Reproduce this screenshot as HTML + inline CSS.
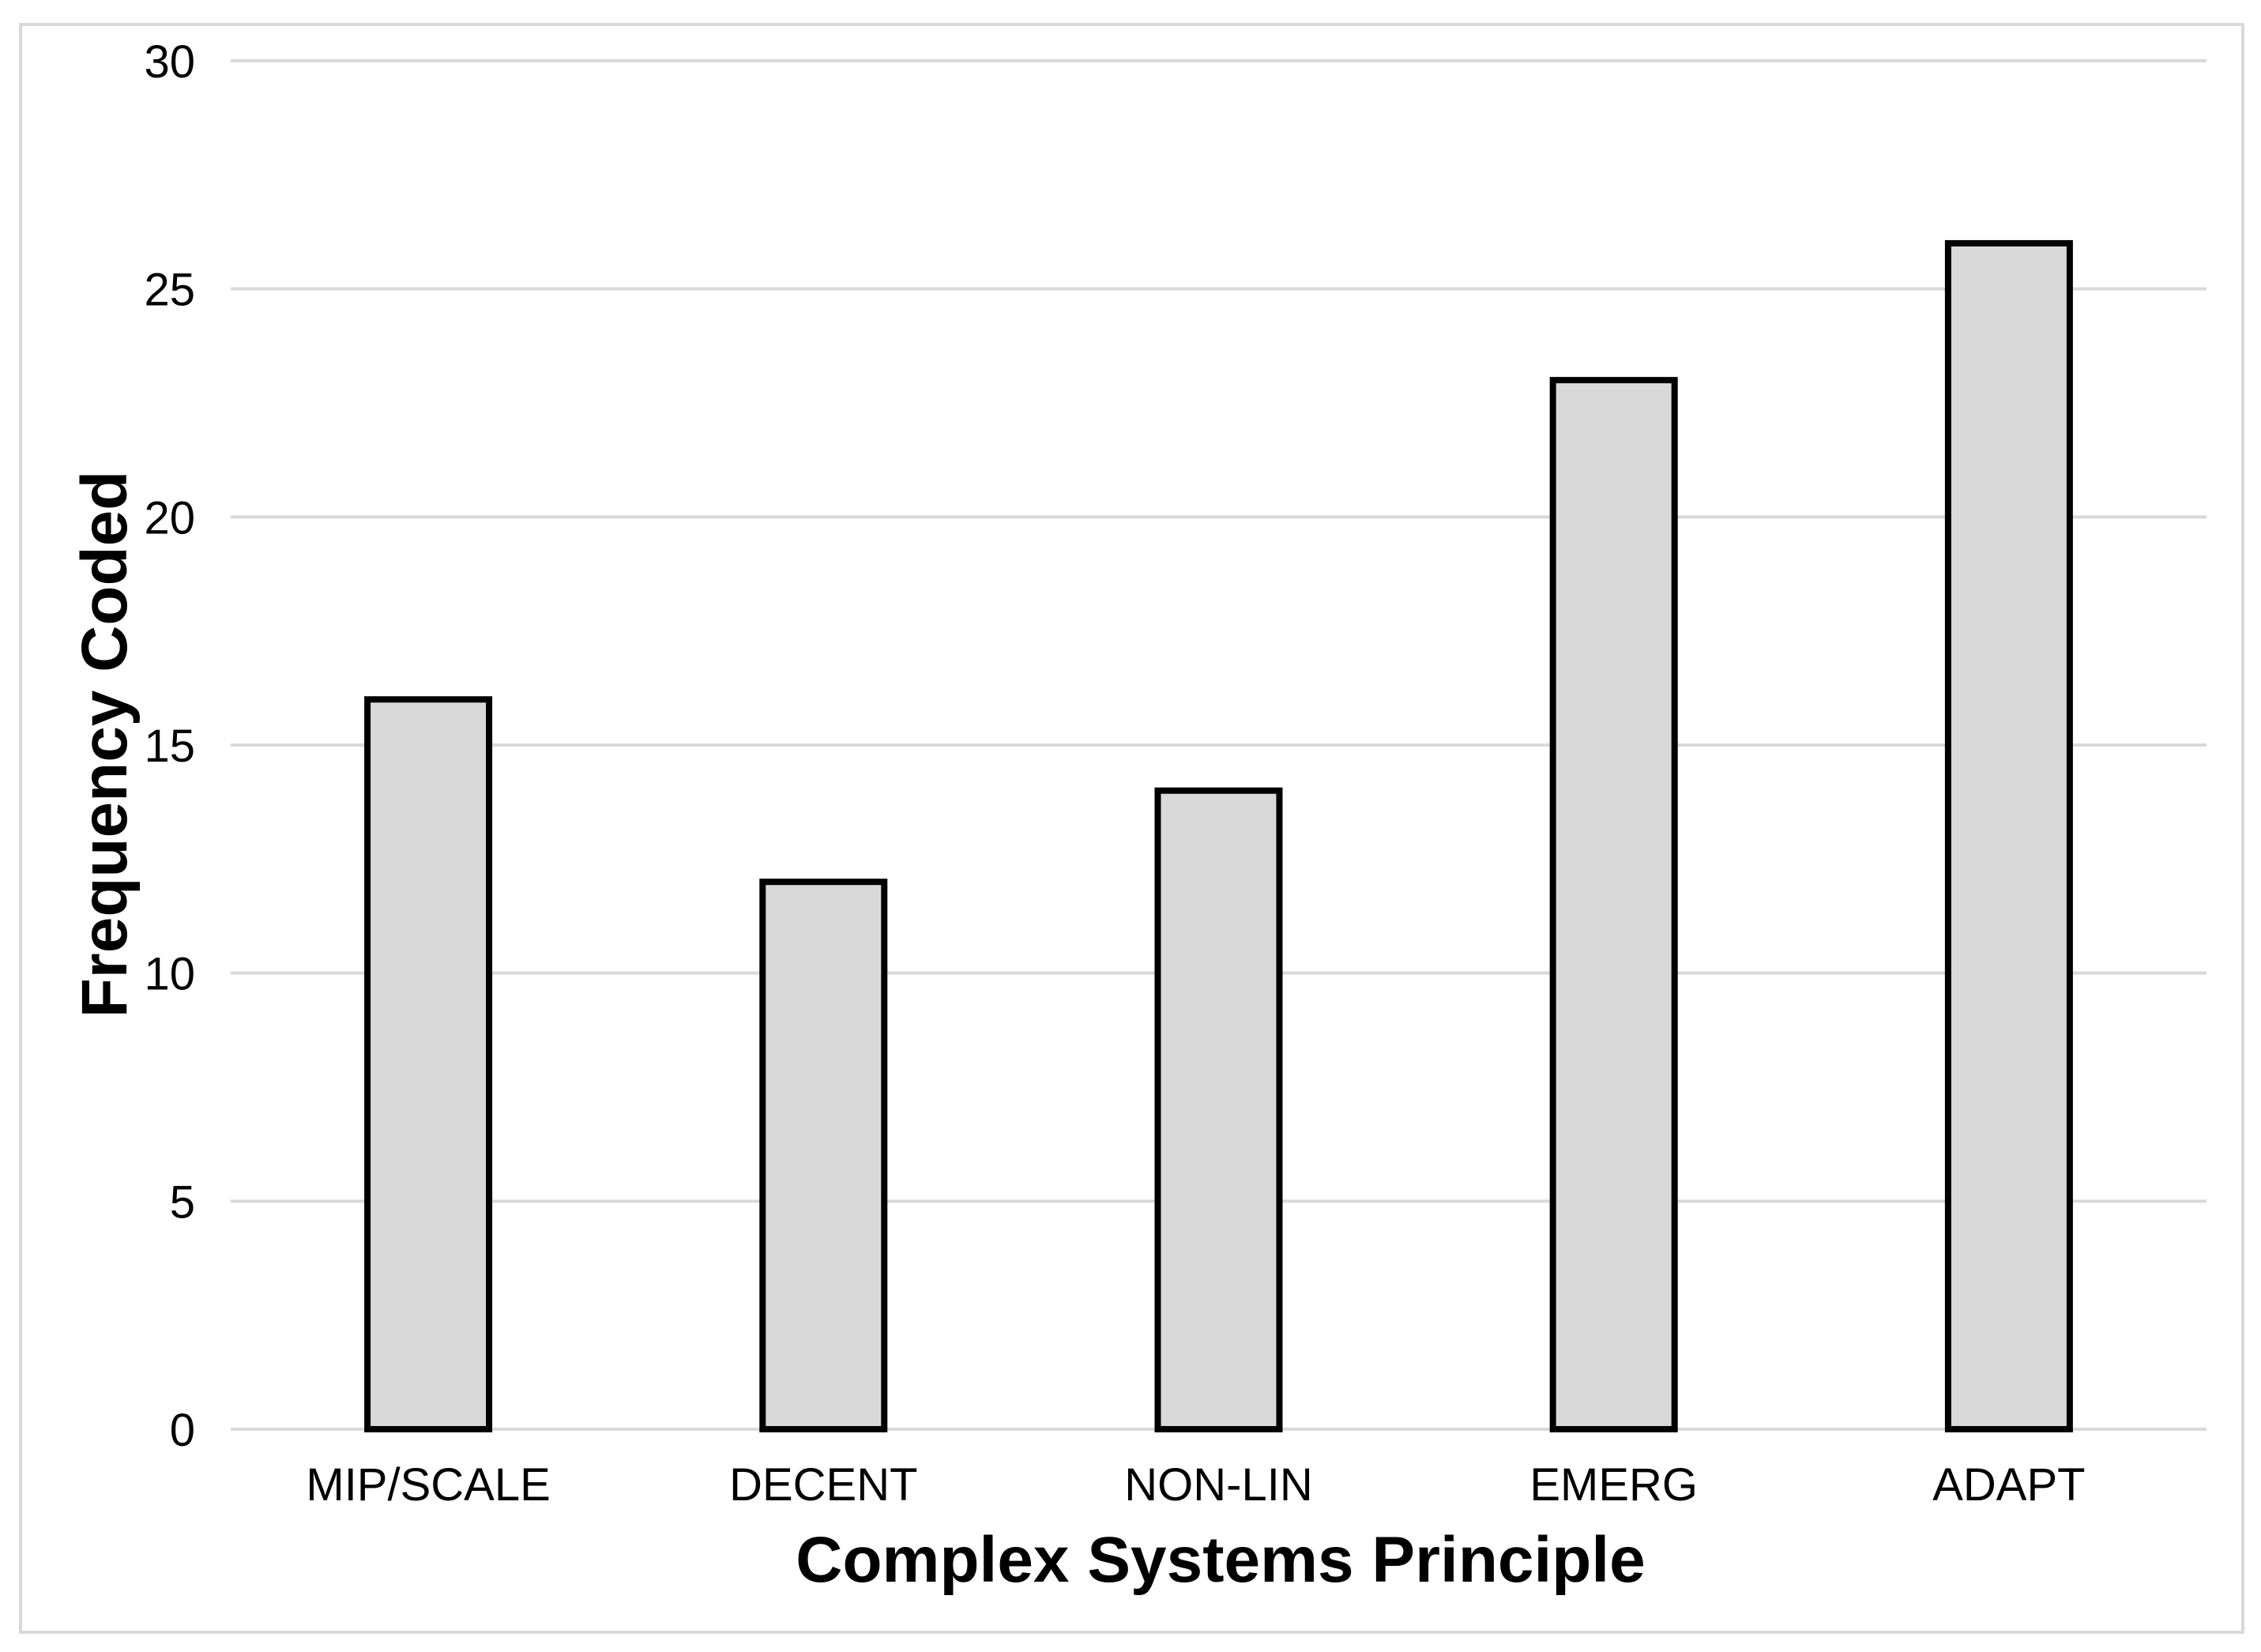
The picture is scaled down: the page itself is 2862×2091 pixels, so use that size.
<!DOCTYPE html>
<html><head><meta charset="utf-8"><style>
html,body{margin:0;padding:0;background:#fff;}
svg{display:block;font-family:"Liberation Sans",Arial,sans-serif;}
</style></head><body>
<svg id="chart" width="2862" height="2091" viewBox="0 0 2862 2091" xmlns="http://www.w3.org/2000/svg">
<rect x="26" y="31" width="2813" height="2035" fill="#fff" stroke="#d9d9d9" stroke-width="4"/>
<g id="grid"></g>
<g id="yticks"></g>
<g id="bars"></g>
<g id="xticks"></g>
<text x="1545" y="2002" text-anchor="middle" font-size="82" font-weight="bold">Complex Systems Principle</text>
<text transform="translate(160,942) rotate(-90)" text-anchor="middle" font-size="82" font-weight="bold">Frequency Coded</text>
</svg>
<script>
const categories = ["MIP/SCALE","DECENT","NON-LIN","EMERG","ADAPT"];
const values = [16,12,14,23,26];
const yTicks = [0,5,10,15,20,25,30];

const NS = "http://www.w3.org/2000/svg";
const plotL = 292, plotR = 2793, y0 = 1809, yTop = 77, yMax = 30;
const yScale = v => y0 - (v / yMax) * (y0 - yTop);
const band = (plotR - plotL) / categories.length;
const xCenter = i => plotL + band * (i + 0.5);
const barW = 154;

const grid = document.getElementById('grid');
const yt = document.getElementById('yticks');
yTicks.forEach(t => {
  const l = document.createElementNS(NS, 'line');
  
  
  l.setAttribute('x1', plotL); l.setAttribute('x2', plotR);
  l.setAttribute('y1', yScale(t)); l.setAttribute('y2', yScale(t));
  l.setAttribute('stroke', '#d9d9d9'); l.setAttribute('stroke-width', '4');
  grid.appendChild(l);
  const tx = document.createElementNS(NS, 'text');
  
  
  tx.setAttribute('x', 247); tx.setAttribute('y', yScale(t) + 21);
  tx.setAttribute('text-anchor', 'end'); tx.setAttribute('font-size', '58');
  tx.textContent = t;
  yt.appendChild(tx);
});

const bars = document.getElementById('bars');
const xt = document.getElementById('xticks');
categories.forEach((c, i) => {
  const r = document.createElementNS(NS, 'rect');
  
  
  r.setAttribute('x', xCenter(i) - barW / 2);
  r.setAttribute('y', yScale(values[i]));
  r.setAttribute('width', barW);
  r.setAttribute('height', y0 - yScale(values[i]));
  r.setAttribute('fill', '#d9d9d9'); r.setAttribute('stroke', '#000'); r.setAttribute('stroke-width', '8');
  bars.appendChild(r);
  const tx = document.createElementNS(NS, 'text');
  
  
  tx.setAttribute('x', xCenter(i)); tx.setAttribute('y', 1899);
  tx.setAttribute('text-anchor', 'middle'); tx.setAttribute('font-size', '58');
  tx.textContent = c;
  xt.appendChild(tx);
});
</script>
</body></html>
